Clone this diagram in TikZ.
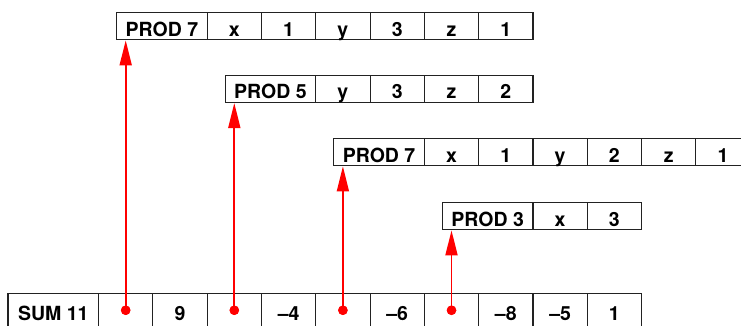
\documentclass[tikz,border=0pt]{standalone}
\usepackage{fontspec}
\setmainfont{TeX Gyre Heros}
\usetikzlibrary{arrows.meta}
\definecolor{boxline}{HTML}{222222}
\definecolor{arrred}{HTML}{FF0000}
\begin{document}
\begin{tikzpicture}[x=1pt,y=-1pt,
  basecell/.style={draw=boxline, line width=1.1pt, rectangle, inner sep=0pt, anchor=north west,
    minimum height=27pt, text height=19.5pt, text depth=0pt,
    font=\fontsize{19.5}{21}\selectfont\bfseries},
  headcell/.style={basecell, minimum width=90.6pt},
  cell/.style={basecell, minimum width=54.3pt},
  tallrow/.style={minimum height=34pt},
  reddot/.style={circle, fill=arrred, inner sep=0pt, minimum size=9.5pt},
  redarrow/.style={draw=arrred, line width=1.8pt, -{Triangle[length=25pt,width=12pt]}}
]
\useasboundingbox (0,0) rectangle (741,325);
\clip (0,0) rectangle (741,325);
% row 1
\node[headcell] (a0) at (116,12.3) {PROD 7};
\foreach \t [count=\i] in {x,1,y,3,z,1}
  \node[cell] (a\i) at ({116+90.6+(\i-1)*54.3},12.3) {\t};
% row 2
\node[headcell] (b0) at (224.6,75) {PROD 5};
\foreach \t [count=\i] in {y,3,z,2}
  \node[cell] (b\i) at ({224.6+90.6+(\i-1)*54.3},75) {\t};
% row 3
\node[headcell] (c0) at (333.2,138.3) {PROD 7};
\foreach \t [count=\i] in {x,1,y,2,z,1}
  \node[cell] (c\i) at ({333.2+90.6+(\i-1)*54.3},138.3) {\t};
% row 4
\node[headcell] (e0) at (441.8,202.3) {PROD 3};
\foreach \t [count=\i] in {x,3}
  \node[cell] (e\i) at ({441.8+90.6+(\i-1)*54.3},202.3) {\t};
% bottom row
\node[headcell, tallrow] (s0) at (7.4,292.7) {SUM 11};
\foreach \t [count=\i] in {{},9,{},–4,{},–6,{},–8,–5,1}
  \node[cell, tallrow] (s\i) at ({7.4+90.6+(\i-1)*54.3},292.7) {\t};
% dots and arrows
\node[reddot] (d1) at (s1.center) {};
\node[reddot] (d2) at (s3.center) {};
\node[reddot] (d3) at (s5.center) {};
\node[reddot] (d4) at (s7.center) {};
\draw[redarrow] (d1.center) -- (d1.center |- a0.south);
\draw[redarrow] (d2.center) -- (d2.center |- b0.south);
\draw[redarrow] (d3.center) -- (d3.center |- c0.south);
\draw[redarrow] (d4.center) -- (d4.center |- e0.south);
\node[reddot] at (d1.center) {};
\node[reddot] at (d2.center) {};
\node[reddot] at (d3.center) {};
\node[reddot] at (d4.center) {};
\end{tikzpicture}
\end{document}
